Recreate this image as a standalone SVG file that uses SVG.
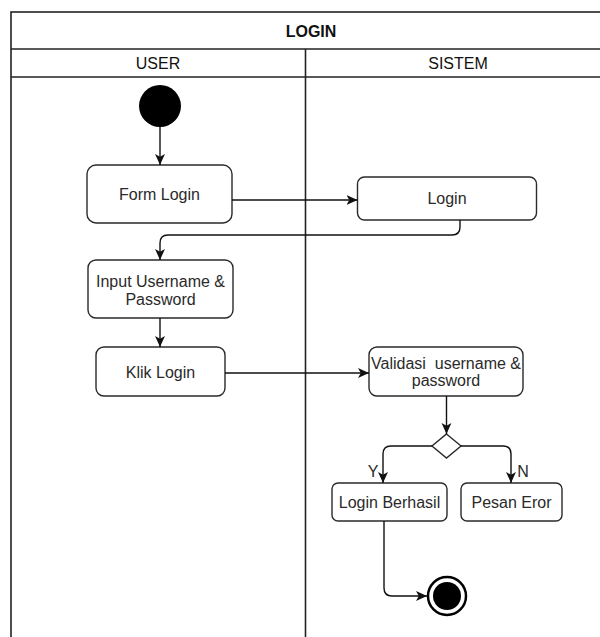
<svg xmlns="http://www.w3.org/2000/svg" width="600" height="637" viewBox="0 0 600 637">
<defs>
<marker id="arr" viewBox="0 0 10 10" refX="10" refY="5" markerWidth="11" markerHeight="11" markerUnits="userSpaceOnUse" orient="auto">
<path d="M0,0.5 L10,5 L0,9.5 L2.5,5 Z" fill="#111"/>
</marker>
<style>
.lane{fill:none;stroke:#222;stroke-width:1.6}
.box{fill:#fff;stroke:#2a2a2a;stroke-width:1.4}
.t{font-family:"Liberation Sans",Arial,sans-serif;font-size:16px;fill:#2a2a2a;text-anchor:middle}
.h{font-family:"Liberation Sans",Arial,sans-serif;font-size:16px;fill:#111;text-anchor:middle}
.c{fill:none;stroke:#111;stroke-width:1.4;marker-end:url(#arr)}
</style>
</defs>
<rect width="600" height="637" fill="#fff"/>
<g id="pool">
<rect class="lane" x="11" y="12" width="600" height="640"/>
<line class="lane" x1="11" y1="49" x2="611" y2="49"/>
<line class="lane" x1="11" y1="77" x2="611" y2="77"/>
<line class="lane" x1="305.5" y1="49" x2="305.5" y2="637" stroke="#444"/>
<text class="h" x="311" y="37" font-weight="bold" font-size="17px">LOGIN</text>
<text class="h" x="158" y="69">USER</text>
<text class="h" x="458" y="69">SISTEM</text>
</g>
<g id="start"><circle cx="160" cy="106" r="21" fill="#000"/></g>
<g id="form-login"><rect class="box" x="87" y="165" width="145" height="58" rx="9"/><text class="t" x="159.5" y="200">Form Login</text></g>
<g id="login"><rect class="box" x="357.5" y="177" width="179" height="43" rx="7"/><text class="t" x="447" y="204">Login</text></g>
<g id="input"><rect class="box" x="88" y="260" width="145" height="58" rx="8"/><text class="t" x="160.5" y="287">Input Username &amp;</text><text class="t" x="160.5" y="305">Password</text></g>
<g id="klik-login"><rect class="box" x="96" y="347" width="129" height="49" rx="8"/><text class="t" x="160.5" y="378">Klik Login</text></g>
<g id="validasi"><rect class="box" x="369" y="347" width="154" height="49" rx="8"/><text class="t" x="446" y="369" xml:space="preserve">Validasi  username &amp;</text><text class="t" x="446" y="386">password</text></g>
<g id="decision"><path d="M446.5,434 L461,446 L446.5,458 L432,446 Z" fill="#fff" stroke="#2a2a2a" stroke-width="1.4"/></g>
<g id="login-berhasil"><rect class="box" x="332" y="483" width="115" height="38" rx="6"/><text class="t" x="389.5" y="508">Login Berhasil</text></g>
<g id="pesan-eror"><rect class="box" x="461" y="483" width="101" height="38" rx="6"/><text class="t" x="511.5" y="508">Pesan Eror</text></g>
<g id="end"><circle cx="447" cy="596" r="19" fill="#fff" stroke="#000" stroke-width="2.5"/><circle cx="447" cy="596" r="14" fill="#000"/></g>
<g id="connectors">
<path class="c" d="M160,127 L160,165"/>
<path class="c" d="M232,200 L357.5,200"/>
<path class="c" d="M460,220 L460,227 Q460,235 452,235 L168,235 Q160,235 160,243 L160,260"/>
<path class="c" d="M160,318 L160,347"/>
<path class="c" d="M225,373 L369,373"/>
<path class="c" d="M446.5,396 L446.5,434"/>
<path class="c" d="M432,446 L391,446 Q383,446 383,454 L383,483"/>
<path class="c" d="M461,446 L503,446 Q511,446 511,454 L511,483"/>
<path class="c" d="M384,521 L384,588 Q384,596 392,596 L427,596"/>
<text class="t" x="373" y="477">Y</text>
<text class="t" x="523" y="477">N</text>
</g>
</svg>
